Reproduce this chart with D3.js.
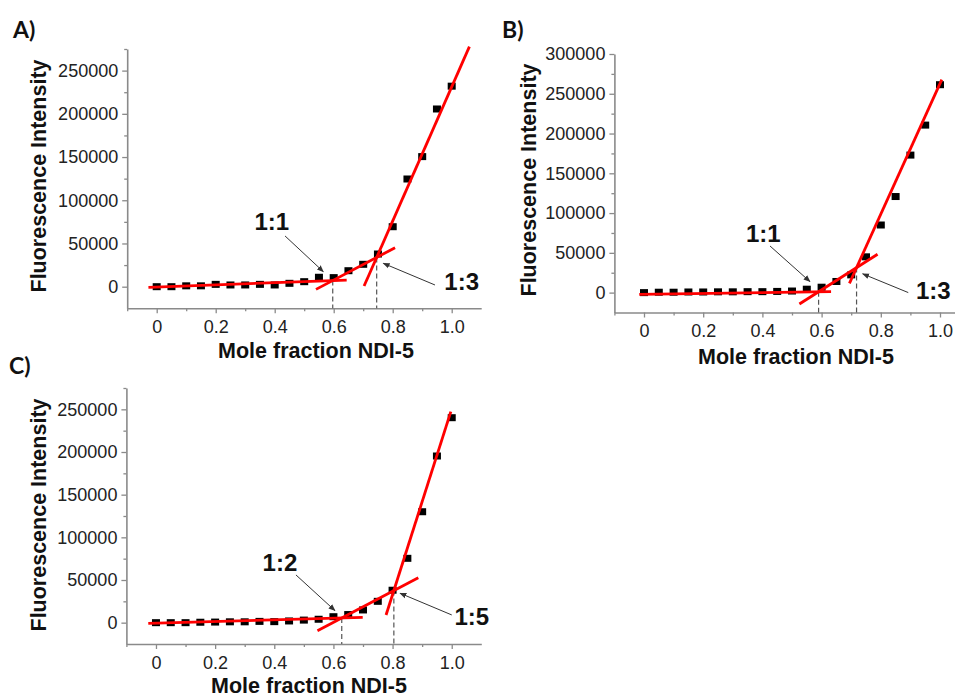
<!DOCTYPE html>
<html>
<head>
<meta charset="utf-8">
<script src="https://cdn.jsdelivr.net/npm/d3@7"></script>
<style>
  body { margin: 0; background: #fff; }
  svg { display: block; }
</style>
</head>
<body>
<svg id="chart" width="955" height="698"></svg>
<script>
// mole fraction of NDI-5 (x for every panel)
const moleFraction = [0, 0.05, 0.1, 0.15, 0.2, 0.25, 0.3, 0.35, 0.4, 0.45, 0.5,
                      0.55, 0.6, 0.65, 0.7, 0.75, 0.8, 0.85, 0.9, 0.95, 1.0];

// fluorescence intensity
const intensityA = [0, 0, 1000, 1000, 2700, 2000, 2000, 2700, 2000, 3900, 5800,
                    10900, 10500, 18500, 25900, 37800, 69400, 124600, 150500, 205600, 232000];
const intensityB = [0, 500, 500, 800, 800, 1000, 1000, 1200, 1200, 1500, 2000,
                    4300, 6800, 14000, 22300, 45000, 85000, 120800, 172900, 210600, 261400];
const intensityC = [0, 0, 0, 500, 700, 1000, 1000, 1500, 1200, 2000, 3000,
                    4000, 7000, 9500, 14900, 25000, 38000, 75400, 130000, 195300, 240200];

// red fit lines, [[x1, y1], [x2, y2]] for flat / middle / steep part
const fitsA = [[[-0.028, -800], [0.644, 7700]],
               [[0.540, -3100], [0.808, 45100]],
               [[0.703, 770], [1.060, 277800]]];
const fitsB = [[[-0.016, -2100], [0.632, 1300]],
               [[0.525, -14300], [0.789, 48300]],
               [[0.694, 11700], [1.006, 267700]]];
const fitsC = [[[-0.026, -800], [0.699, 6250]],
               [[0.546, -9400], [0.887, 52700]],
               [[0.778, 9000], [0.997, 247300]]];

// stoichiometry labels at the two break points
const ratiosA = ['1:1', '1:3'];
const ratiosB = ['1:1', '1:3'];
const ratiosC = ['1:2', '1:5'];

// ticks
const xTicks = [0, 0.2, 0.4, 0.6, 0.8, 1.0];
const xTickLabels = ['0', '0.2', '0.4', '0.6', '0.8', '1.0'];
const xMinor = [-0.1, 0.1, 0.3, 0.5, 0.7, 0.9];
const yTicksA = [0, 50000, 100000, 150000, 200000, 250000];
const yTicksB = [0, 50000, 100000, 150000, 200000, 250000, 300000];
const yMinorAC = [25000, 75000, 125000, 175000, 225000, 275000];
const yMinorB = [25000, 75000, 125000, 175000, 225000, 275000];

const panelLabels = ['A)', 'B)', 'C)'];
const xTitle = 'Mole fraction NDI-5';
const yTitle = 'Fluorescence Intensity';

const svg = d3.select('#chart');

svg.append('defs').append('marker')
    .attr('id', 'head')
    .attr('viewBox', '0 0 10 10')
    .attr('refX', 9).attr('refY', 5)
    .attr('markerWidth', 7).attr('markerHeight', 7)
    .attr('markerUnits', 'userSpaceOnUse')
    .attr('orient', 'auto')
    .append('path').attr('d', 'M0,1 L10,5 L0,9 Z').attr('fill', '#333');

// layout of each panel (pixels)
const panels = [
    {
        label: panelLabels[0], labelPos: [13, 38],
        values: intensityA, fits: fitsA, ratios: ratiosA,
        yTicks: yTicksA, yMinor: yMinorAC, yTop: 275000,
        xRange: [127.2, 481.2], yRange: [308.3, 49],
        xTitlePos: [316, 350], yTitlePos: [38.5, 176],
        notes: [
            { text: [-61, -59], from: [-47.7, -44.6], to: [-9.4, -8.9] },
            { text: [85, 24.3], from: [58.3, 27.6], to: [6.6, 5.9] }
        ]
    },
    {
        label: panelLabels[1], labelPos: [502, 38],
        values: intensityB, fits: fitsB, ratios: ratiosB,
        yTicks: yTicksB, yMinor: yMinorB, yTop: 300000,
        xRange: [614.4, 969.6], yRange: [312.5, 54],
        xTitlePos: [796, 356], yTitlePos: [528, 180],
        notes: [
            { text: [-55.3, -58.5], from: [-48.6, -45.8], to: [-8.6, -10.1] },
            { text: [76.7, 22.3], from: [51.7, 25], to: [6.1, 6.3] }
        ]
    },
    {
        label: panelLabels[2], labelPos: [9, 374],
        values: intensityC, fits: fitsC, ratios: ratiosC,
        yTicks: yTicksA, yMinor: yMinorAC, yTop: 275000,
        xRange: [126.4, 481.3], yRange: [644, 388],
        xTitlePos: [309, 685], yTitlePos: [38, 515],
        notes: [
            { text: [-61.8, -55.3], from: [-45.8, -43], to: [-6.8, -7.3] },
            { text: [78, 25.4], from: [57.9, 24.4], to: [6.2, 2.7] }
        ]
    }
];

// crossing point of two fit lines
function intersect(a, b) {
    const ma = (a[1][1] - a[0][1]) / (a[1][0] - a[0][0]);
    const mb = (b[1][1] - b[0][1]) / (b[1][0] - b[0][0]);
    const x = (b[0][1] - mb * b[0][0] - a[0][1] + ma * a[0][0]) / (ma - mb);
    return [x, a[0][1] + ma * (x - a[0][0])];
}

panels.forEach((p) => {
    const x = d3.scaleLinear().domain([-0.1, 1.1]).range(p.xRange);
    const y = d3.scaleLinear().domain([-25000, p.yTop]).range(p.yRange);
    const g = svg.append('g');

    // axes (major + minor ticks)
    const xAxisY = y(-25000);
    const yAxisX = x(-0.1);

    g.append('g').attr('transform', `translate(0,${xAxisY})`)
        .call(d3.axisBottom(x).tickValues(xMinor).tickFormat('').tickSize(3).tickSizeOuter(0))
        .call((s) => s.select('.domain').remove());
    g.append('g').attr('transform', `translate(${yAxisX},0)`)
        .call(d3.axisLeft(y).tickValues(p.yMinor).tickFormat('').tickSize(3).tickSizeOuter(0))
        .call((s) => s.select('.domain').remove());

    const xAxis = g.append('g').attr('transform', `translate(0,${xAxisY})`)
        .call(d3.axisBottom(x).tickValues(xTicks)
            .tickFormat((d, i) => xTickLabels[i]).tickSize(5).tickPadding(7).tickSizeOuter(0));
    const yAxis = g.append('g').attr('transform', `translate(${yAxisX},0)`)
        .call(d3.axisLeft(y).tickValues(p.yTicks)
            .tickFormat(d3.format('d')).tickSize(5).tickPadding(4).tickSizeOuter(0));

    g.selectAll('.domain').attr('stroke', '#8a8a8a').attr('stroke-width', 1.6);
    g.selectAll('.tick line').attr('stroke', '#8a8a8a').attr('stroke-width', 1.3);
    [xAxis, yAxis].forEach((a) => a.selectAll('text')
        .attr('font-family', 'Liberation Sans, Arial, sans-serif')
        .attr('font-size', 18).attr('fill', '#222'));

    // data squares
    g.selectAll('rect.pt').data(p.values).enter().append('rect')
        .attr('class', 'pt')
        .attr('x', (d, i) => x(moleFraction[i]) - 4)
        .attr('y', (d) => y(d) - 3.5)
        .attr('width', 8).attr('height', 7)
        .attr('fill', '#000');

    // break points
    const cross = [intersect(p.fits[0], p.fits[1]), intersect(p.fits[1], p.fits[2])];

    // dashed drop lines
    g.selectAll('line.drop').data(cross).enter().append('line')
        .attr('x1', (d) => x(d[0])).attr('x2', (d) => x(d[0]))
        .attr('y1', (d) => y(d[1])).attr('y2', xAxisY)
        .attr('stroke', '#555').attr('stroke-width', 1.2)
        .attr('stroke-dasharray', '5,3');

    // fit lines
    g.selectAll('line.fit').data(p.fits).enter().append('line')
        .attr('x1', (d) => x(d[0][0])).attr('y1', (d) => y(d[0][1]))
        .attr('x2', (d) => x(d[1][0])).attr('y2', (d) => y(d[1][1]))
        .attr('stroke', '#ff0000').attr('stroke-width', 2.8);

    // ratio labels with arrows
    p.ratios.forEach((r, i) => {
        const cx = x(cross[i][0]), cy = y(cross[i][1]);
        const n = p.notes[i];
        g.append('line')
            .attr('x1', cx + n.from[0]).attr('y1', cy + n.from[1])
            .attr('x2', cx + n.to[0]).attr('y2', cy + n.to[1])
            .attr('stroke', '#333').attr('stroke-width', 1)
            .attr('marker-end', 'url(#head)');
        g.append('text')
            .attr('x', cx + n.text[0]).attr('y', cy + n.text[1])
            .attr('dy', '0.36em').attr('text-anchor', 'middle')
            .attr('font-family', 'Liberation Sans, Arial, sans-serif')
            .attr('font-weight', 'bold').attr('font-size', 24).attr('fill', '#111')
            .text(r);
    });

    // titles
    g.append('text')
        .attr('x', p.xTitlePos[0]).attr('y', p.xTitlePos[1])
        .attr('dy', '0.36em').attr('text-anchor', 'middle')
        .attr('font-family', 'Liberation Sans, Arial, sans-serif')
        .attr('font-weight', 'bold').attr('font-size', 21.5).attr('fill', '#111')
        .text(xTitle);
    g.append('text')
        .attr('transform', `translate(${p.yTitlePos[0]},${p.yTitlePos[1]}) rotate(-90)`)
        .attr('dy', '0.36em').attr('text-anchor', 'middle')
        .attr('font-family', 'Liberation Sans, Arial, sans-serif')
        .attr('font-weight', 'bold').attr('font-size', 21.5).attr('fill', '#111')
        .text(yTitle);
    g.append('text')
        .attr('x', p.labelPos[0]).attr('y', p.labelPos[1])
        .attr('font-family', 'Lato, Open Sans, sans-serif')
        .attr('font-weight', 'bold').attr('font-size', 23).attr('fill', '#111')
        .text(p.label);
});
</script>
</body>
</html>
